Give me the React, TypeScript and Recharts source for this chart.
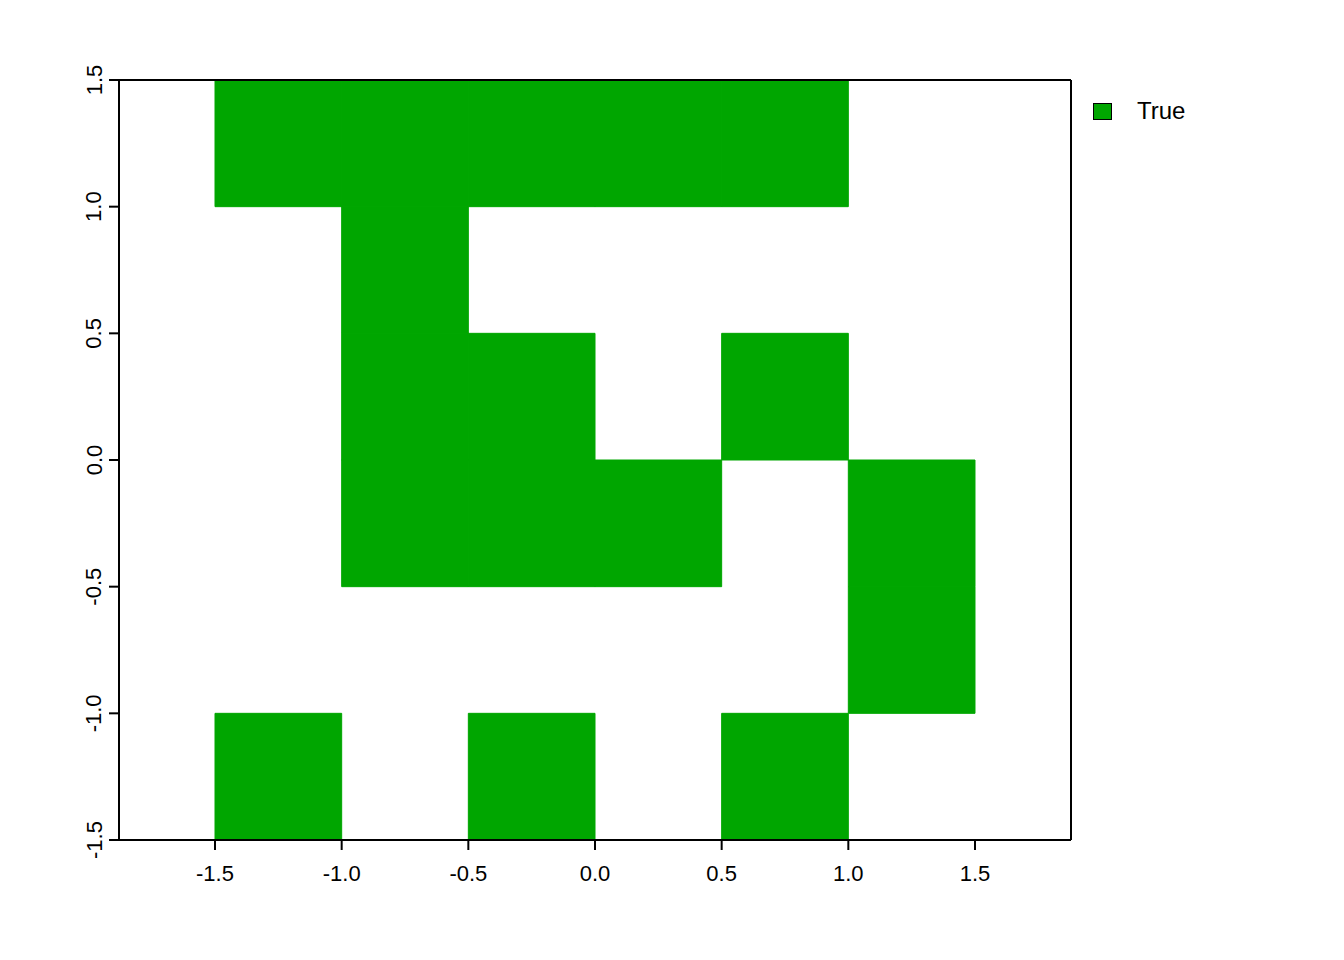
import { ComposedChart, XAxis, YAxis, ReferenceArea, ReferenceLine } from "recharts";

// lower-left corner of each TRUE cell (cells are 0.5 x 0.5)
const cellX = [-1.5, -1.0, -0.5, 0.0, 0.5, -1.0, -1.0, -0.5, 0.5, -1.0, -0.5, 0.0, 1.0, 1.0, -1.5, -0.5, 0.5];
const cellY = [1.0, 1.0, 1.0, 1.0, 1.0, 0.5, 0.0, 0.0, 0.0, -0.5, -0.5, -0.5, -0.5, -1.0, -1.5, -1.5, -1.5];
const CELL = 0.5;

const xTicks = [-1.5, -1.0, -0.5, 0.0, 0.5, 1.0, 1.5];
const yTicks = [-1.5, -1.0, -0.5, 0.0, 0.5, 1.0, 1.5];
const xDomain = [-1.879, 1.879];
const yDomain = [-1.5, 1.5];
const legendLabel = "True";

const GREEN = "#00A600";
const FONT = '"Liberation Sans", Arial, sans-serif';

const cells = cellX.map((x, i) => ({ x, y: cellY[i] }));

function XTick({ x, y, payload }: any) {
  return (
    <text x={x} y={y + 23} textAnchor="middle" dominantBaseline="central" fontSize={22} fill="#000" fontFamily={FONT}>
      {payload.value.toFixed(1)}
    </text>
  );
}

function YTick({ x, y, payload }: any) {
  const cx = x - 15;
  return (
    <text x={cx} y={y} transform={`rotate(-90, ${cx}, ${y})`} textAnchor="middle" dominantBaseline="central" fontSize={22} fill="#000" fontFamily={FONT}>
      {payload.value.toFixed(1)}
    </text>
  );
}

export default function App() {
  return (
    <div style={{ position: "absolute", left: 0, top: 0, width: 1344, height: 960, background: "#fff" }}>
      <ComposedChart width={1344} height={960} data={cells} margin={{ top: 80, right: 273, left: 59, bottom: 60 }}>
        <XAxis
          type="number"
          dataKey="x"
          domain={xDomain}
          ticks={xTicks}
          allowDataOverflow
          height={60}
          tickSize={10}
          tickMargin={0}
          tick={<XTick />}
          axisLine={{ stroke: "#000", strokeWidth: 2 }}
          tickLine={{ stroke: "#000", strokeWidth: 2 }}
        />
        <YAxis
          type="number"
          dataKey="y"
          domain={yDomain}
          ticks={yTicks}
          allowDataOverflow
          width={60}
          tickSize={10}
          tickMargin={0}
          tick={<YTick />}
          axisLine={{ stroke: "#000", strokeWidth: 2 }}
          tickLine={{ stroke: "#000", strokeWidth: 2 }}
        />
        {cells.map((c, i) => (
          <ReferenceArea
            key={i}
            x1={c.x}
            x2={c.x + CELL}
            y1={c.y}
            y2={c.y + CELL}
            fill={GREEN}
            fillOpacity={1}
            stroke={GREEN}
            strokeWidth={1}
            ifOverflow="visible"
          />
        ))}
        <ReferenceLine y={yDomain[1]} stroke="#000" strokeWidth={2} ifOverflow="visible" />
        <ReferenceLine x={xDomain[1]} stroke="#000" strokeWidth={2} ifOverflow="visible" />
      </ComposedChart>
      <div style={{ position: "absolute", left: 1093, top: 97, display: "flex", alignItems: "center", fontFamily: FONT, fontSize: 24 }}>
        <span style={{ width: 17, height: 15, background: GREEN, border: "1.5px solid #000", display: "inline-block" }} />
        <span style={{ marginLeft: 25 }}>{legendLabel}</span>
      </div>
    </div>
  );
}
